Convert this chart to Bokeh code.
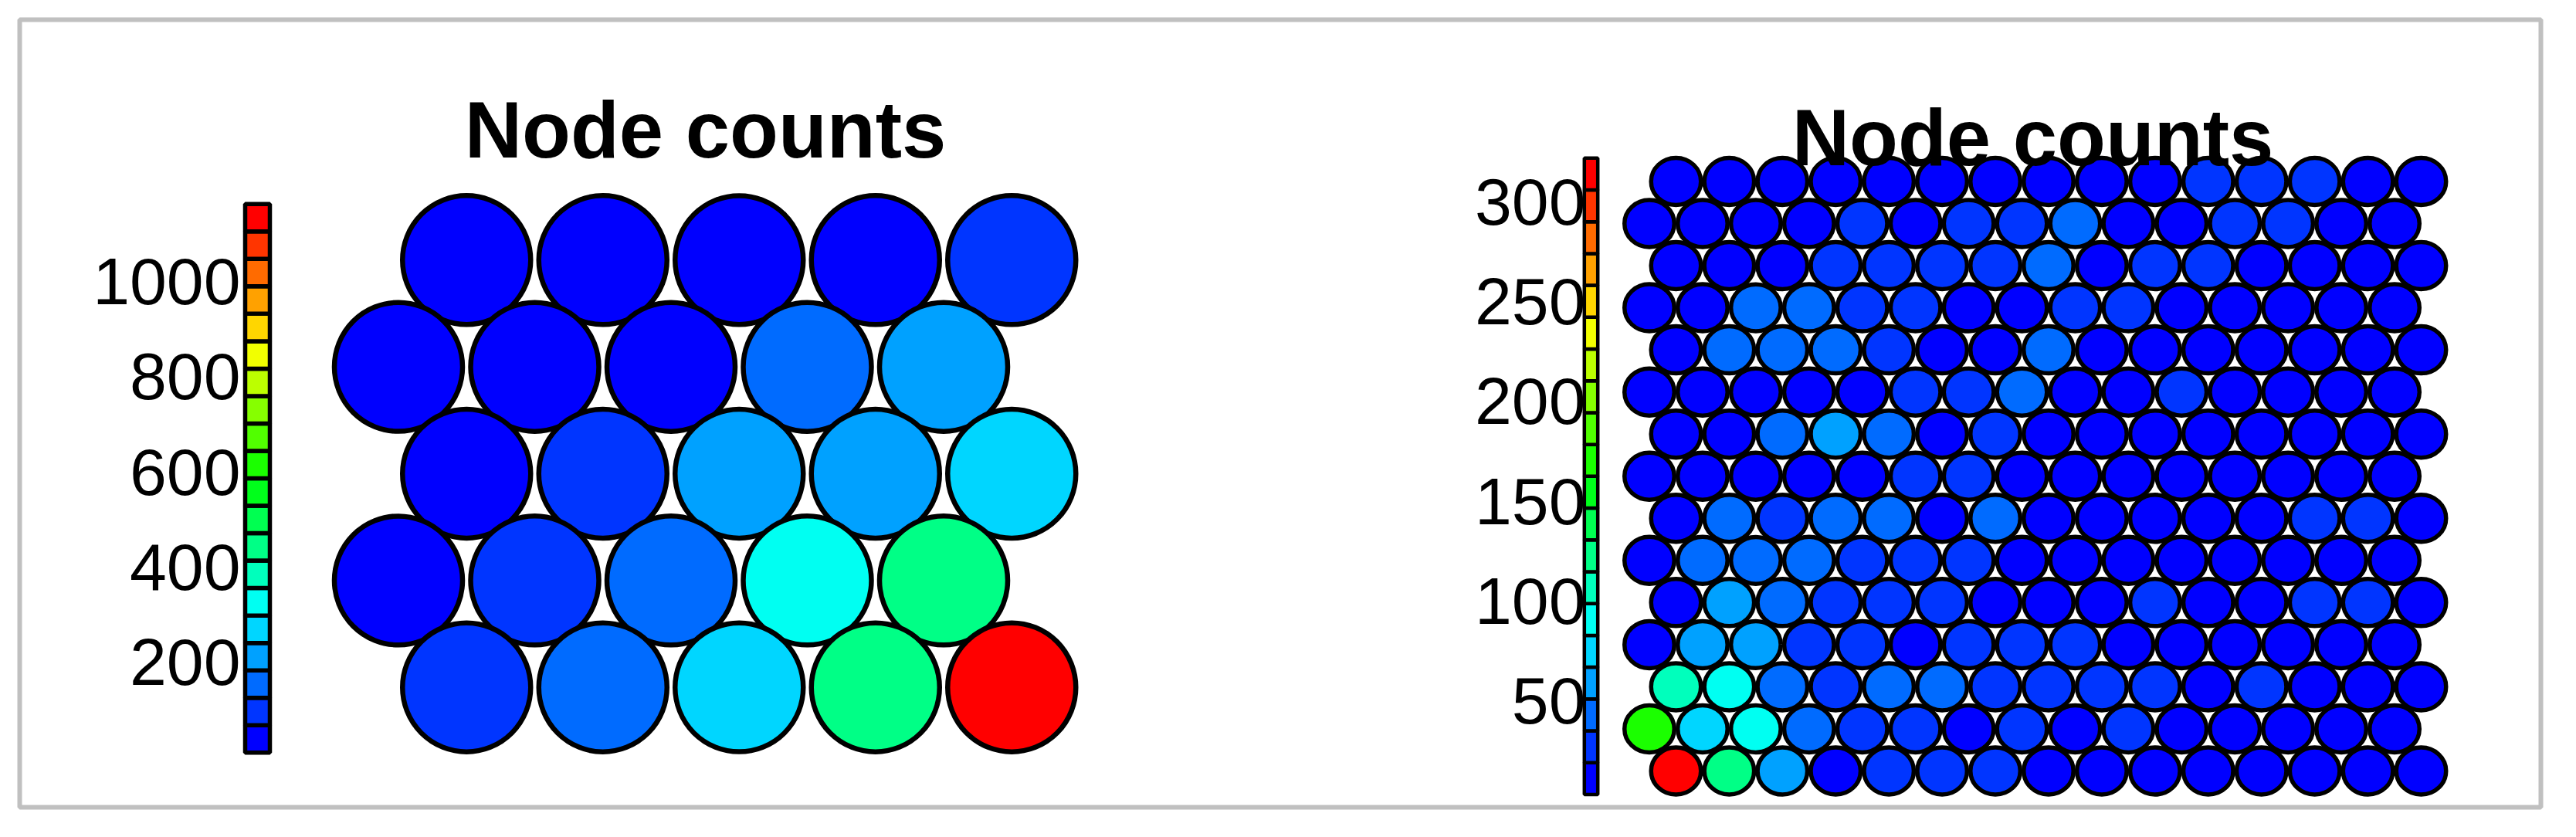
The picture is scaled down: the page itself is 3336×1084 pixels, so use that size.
import numpy as np
from bokeh.plotting import figure
from bokeh.models import Range1d
from bokeh.core.properties import value
from bokeh.embed import file_html
from bokeh.resources import INLINE

# ---------------- data ----------------
title_text = "Node counts"

# left map: 5 x 5 hexagonal grid, rows listed from top to bottom
left_counts = [
    [10, 35, 18, 40, 96],
    [27, 45, 31, 150, 205],
    [38, 90, 210, 196, 262],
    [14, 100, 158, 325, 440],
    [82, 142, 268, 432, 1163],
]
left_ticks = [200, 400, 600, 800, 1000]

# right map: 15 x 15 hexagonal grid, rows listed from top to bottom
right_counts = [
    [9, 12, 8, 11, 14, 10, 7, 13, 15, 11, 24, 27, 22, 12, 9],
    [10, 13, 9, 12, 23, 14, 26, 28, 41, 15, 11, 25, 21, 13, 8],
    [11, 9, 14, 20, 26, 24, 29, 39, 12, 27, 23, 10, 13, 9, 11],
    [8, 12, 37, 40, 25, 28, 15, 10, 22, 30, 13, 11, 9, 12, 10],
    [12, 38, 42, 36, 23, 11, 14, 44, 12, 10, 13, 9, 11, 12, 8],
    [9, 13, 10, 12, 14, 24, 27, 39, 11, 10, 26, 12, 9, 13, 10],
    [11, 14, 40, 58, 43, 12, 25, 13, 10, 12, 9, 11, 14, 10, 12],
    [10, 12, 9, 15, 11, 21, 29, 13, 10, 12, 11, 9, 13, 10, 11],
    [13, 37, 31, 41, 38, 12, 45, 11, 10, 13, 9, 12, 24, 26, 10],
    [11, 36, 39, 41, 29, 27, 30, 14, 10, 12, 11, 13, 9, 12, 10],
    [12, 56, 40, 28, 26, 31, 13, 11, 10, 24, 12, 9, 29, 27, 11],
    [10, 59, 55, 33, 27, 14, 25, 29, 30, 12, 10, 11, 13, 9, 12],
    [105, 92, 43, 30, 45, 41, 26, 32, 28, 25, 13, 23, 11, 10, 12],
    [170, 76, 93, 42, 31, 28, 14, 24, 12, 22, 11, 10, 13, 9, 11],
    [322, 124, 58, 16, 24, 27, 22, 13, 11, 10, 12, 9, 3, 10, 11],
]
right_ticks = [50, 100, 150, 200, 250, 300]

# 20-step blue -> red palette (style)
PALETTE = ["#0000FF", "#0035FF", "#006BFF", "#00A1FF", "#00D6FF",
           "#00FFF2", "#00FFBC", "#00FF86", "#00FF51", "#00FF1B",
           "#1BFF00", "#51FF00", "#86FF00", "#BCFF00", "#F2FF00",
           "#FFD600", "#FFA100", "#FF6B00", "#FF3500", "#FF0000"]

# ---------------- layout ----------------
W, H = 3320, 1068
BL, BT, BR, BB = 25, 25, 30, 23
FW, FH = W - BL - BR, H - BT - BB
PAGE = 8


def fx(px):
    return px - PAGE - BL


def fy(py):
    return (PAGE + BT + FH) - py


def hex_ranges(x0, y0, dx, dy):
    xs = -fx(x0) / dx
    ys = -fy(y0) / dy
    return Range1d(xs, xs + FW / dx), Range1d(ys, ys + FH / dy)


def cb_range(vmin, vmax, top_py, bot_py):
    k = (fy(top_py) - fy(bot_py)) / (vmax - vmin)
    s = vmin - fy(bot_py) / k
    return Range1d(s, s + FH / k)


p = figure(width=W, height=H, x_range=Range1d(0, FW), y_range=Range1d(0, FH),
           output_backend="svg", toolbar_location=None,
           x_axis_location=None, y_axis_location=None,
           min_border_left=BL, min_border_top=BT, min_border_right=BR,
           min_border_bottom=BB,
           outline_line_color="#C0C0C0", outline_line_width=6,
           background_fill_color="white", border_fill_color="white")
p.grid.visible = False

FONT = value("Liberation Sans")


def draw_panel(name, counts, ticks, g):
    nrows, ncols = len(counts), len(counts[0])
    vals = np.array(counts, dtype=float)
    vmin, vmax = vals.min(), vals.max()
    xs, ys, cols = [], [], []
    for r in range(nrows):
        off = 0.5 if r % 2 == 0 else 0.0
        for c in range(ncols):
            xs.append(c + off)
            ys.append(nrows - 1 - r)
            b = min(int((counts[r][c] - vmin) / (vmax - vmin) * 20), 19)
            cols.append(PALETTE[b])
    xr, yr = hex_ranges(g["x0"], g["y0"], g["dx"], g["dy"])
    p.extra_x_ranges[name] = xr
    p.extra_y_ranges[name] = yr
    p.ellipse(x=xs, y=ys, width=g["ew"] / g["dx"], height=g["eh"] / g["dy"],
              fill_color=cols, line_color="black", line_width=g["lw"],
              x_range_name=name, y_range_name=name)

    # colour bar
    edges = vmin + (vmax - vmin) * np.arange(21) / 20.0
    cbn = name + "_cb"
    p.extra_y_ranges[cbn] = cb_range(vmin, vmax, g["cb_top"], g["cb_bot"])
    p.quad(left=fx(g["cb_x0"]), right=fx(g["cb_x1"]),
           bottom=edges[:-1], top=edges[1:], fill_color=PALETTE,
           line_color="black", line_width=g["cb_lw"], y_range_name=cbn)
    p.text(x=[fx(g["lab_x"])] * len(ticks), y=ticks,
           text=[str(t) for t in ticks], text_align="right",
           text_baseline="middle", text_font=FONT, text_font_size="86px",
           text_color="black", y_range_name=cbn)

    # title
    p.text(x=[fx(g["tx"])], y=[fy(g["ty"])], text=[title_text],
           text_align="center", text_baseline="alphabetic", text_font=FONT,
           text_font_size="103px", text_font_style="bold", text_color="black")


draw_panel("L", left_counts, left_ticks,
           dict(x0=523.5, y0=897.7, dx=176.5, dy=138.35, ew=166.0, eh=167.0,
                lw=6.5, cb_top=271.75, cb_bot=982.25, cb_x0=325, cb_x1=357,
                cb_lw=5.5, lab_x=319, tx=921, ty=176))
draw_panel("R", right_counts, right_ticks,
           dict(x0=2143.5, y0=1006, dx=68.93, dy=54.54, ew=64.5, eh=61.0,
                lw=5.5, cb_top=212.3, cb_bot=1036.4, cb_x0=2059.3, cb_x1=2076.7,
                cb_lw=4.5, lab_x=2061, tx=2640, ty=186))

open("out.html", "w").write(file_html(p, INLINE))
